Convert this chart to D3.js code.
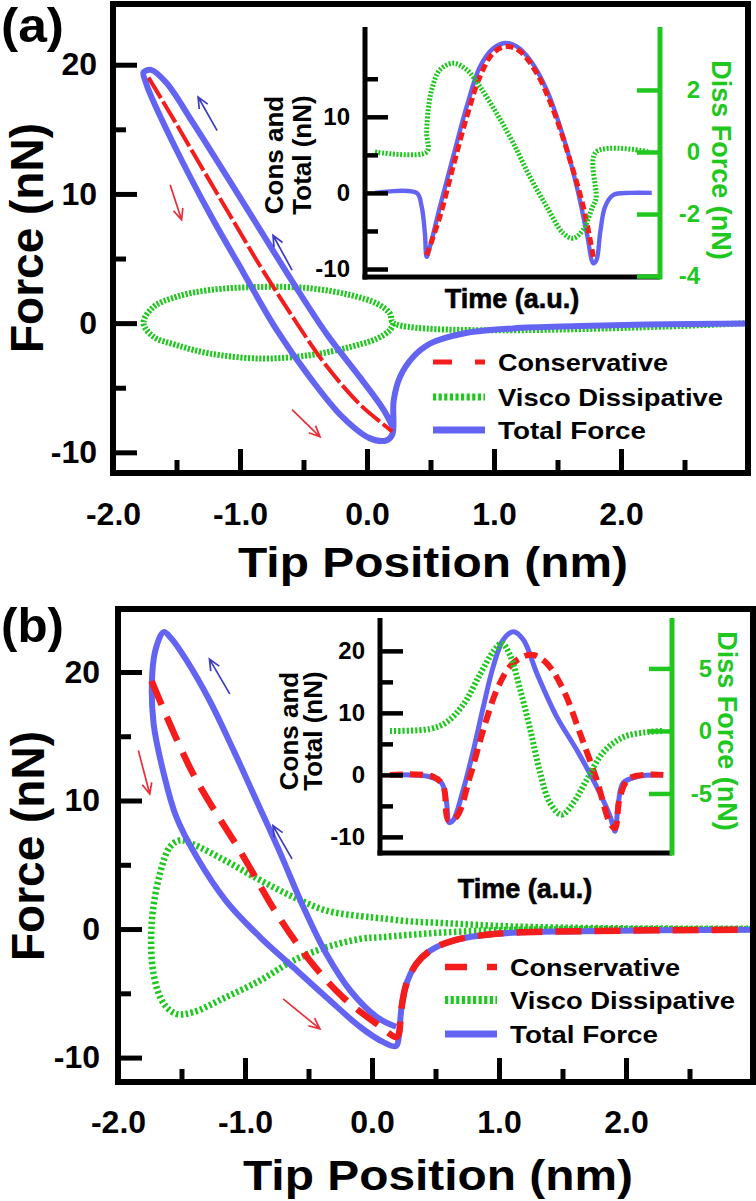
<!DOCTYPE html>
<html><head><meta charset="utf-8">
<script src="https://cdn.jsdelivr.net/npm/d3@7"></script>
<style>
body{margin:0;background:#fff}
svg{display:block}
text{font-family:"Liberation Sans",Arial,sans-serif;font-weight:bold;fill:#000}
</style></head><body>
<svg id="c" width="756" height="1201"></svg>
<script>
// ---------- tick values / labels ----------
const xMajor = [-2, -1, 0, 1, 2];
const xMajorLabels = ["-2.0", "-1.0", "0.0", "1.0", "2.0"];
const xMinor = [-1.5, -0.5, 0.5, 1.5, 2.5];
const yMajor = [-10, 0, 10, 20];
const yMajorLabels = ["-10", "0", "10", "20"];
const yMinor = [-5, 5, 15];

const insetALeftMajor = [-10, 0, 10];
const insetALeftLabels = ["-10", "0", "10"];
const insetALeftMinor = [-5, 5, 15];
const insetARight = [-4, -2, 0, 2];
const insetARightLabels = ["-4", "-2", "0", "2"];

const insetBLeftMajor = [-10, 0, 10, 20];
const insetBLeftLabels = ["-10", "0", "10", "20"];
const insetBLeftMinor = [-5, 5, 15];
const insetBRight = [-5, 0, 5];
const insetBRightLabels = ["-5", "0", "5"];

const legendLabels = ["Conservative", "Visco Dissipative", "Total Force"];

// ---------- panel (a) main: force vs tip position ----------
const consA = [[-1.72,19.0],[-1.50,15.4],[-1.37,13.2],[-1.10,8.7],[-0.84,4.4],[-0.58,0.4],[-0.32,-3.3],[-0.055,-6.3],[0.13,-7.85],[0.20,-8.4]];
const totalA = [[0.20,-8.0],[0.13,-6.7],[-0.055,-4.2],[-0.32,-0.8],[-0.58,3.1],[-0.84,7.2],[-1.10,11.3],[-1.37,15.5],[-1.58,18.6],[-1.70,19.6],[-1.76,19.4],[-1.74,18.6],[-1.71,17.8],[-1.50,13.4],[-1.24,8.5],[-0.97,3.85],[-0.71,-0.54],[-0.45,-4.2],[-0.19,-7.3],[0.02,-8.9],[0.155,-9.07],[0.20,-8.6],[0.21,-6.0],[0.26,-4.16],[0.365,-2.6],[0.5,-1.57],[0.76,-0.8],[1.15,-0.41],[1.68,-0.23],[2.2,-0.1],[3.0,-0.03]];
const dissA = [[3.0,0],[0.21,0],[0.18,0.75],[0.08,1.5],[-0.13,2.17],[-0.45,2.7],[-0.84,2.8],[-1.24,2.56],[-1.50,2.04],[-1.68,1.26],[-1.76,0],[-1.68,-1.06],[-1.50,-1.7],[-1.24,-2.35],[-0.84,-2.74],[-0.45,-2.48],[-0.13,-1.84],[0.08,-1.19],[0.18,-0.54],[0.21,0]];
const arrowsBlueA = [[-1.18,14.9,-1.33,17.5],[-0.59,4.1,-0.74,6.8]];
const arrowsRedA = [[-1.55,10.7,-1.46,8.0],[-0.59,-6.7,-0.37,-8.8]];

// ---------- panel (a) inset: force vs time ----------
const insetTotalA = [[3.4,0],[17.5,0],[19.2,-1.8],[20.3,-5.3],[20.9,-8.4],[22.0,-7.1],[25.4,-1.8],[29.9,4.8],[34.5,11.4],[39.0,16.6],[43.5,19.0],[47.5,19.7],[51.4,19.25],[55.9,17.5],[61.6,13.55],[67.2,7.4],[71.8,0.8],[75.2,-5.3],[77.4,-9.25],[78.5,-8.8],[79.7,-5.3],[81.4,-1.8],[84.2,-0.26],[89.8,0],[97.2,0]];
const insetConsA = [[20.9,-8.2],[25.4,-3.1],[29.9,3.5],[34.5,10.0],[39.0,15.3],[43.5,18.4],[48.0,19.25],[52.5,18.6],[58.2,15.75],[63.8,10.9],[69.5,4.3],[74.0,-1.8],[77.4,-8.4]];
const insetDissA = [[3.4,0],[20.9,0],[20.9,0.6],[21.3,1.25],[22.6,2.0],[25.4,2.65],[29.9,2.86],[34.5,2.65],[39.0,2.1],[44.6,1.25],[50.3,0.28],[55.9,-0.8],[61.6,-1.76],[67.2,-2.62],[70.6,-2.78],[74.0,-2.5],[77.0,-1.8],[78.3,-1.5],[78.3,0],[96.6,0]];

// ---------- panel (b) main ----------
const consB = [[-1.735,19.3],[-1.41,12.1],[-1.01,5.6],[-0.75,1.2],[-0.49,-2.45],[-0.23,-5.3],[0.04,-7.4],[0.19,-8.4],[0.21,-8.2],[0.23,-6.3],[0.27,-4.3],[0.35,-2.7],[0.46,-1.67],[0.64,-0.9],[0.98,-0.37],[1.64,-0.17],[2.98,-0.06]];
const totalB = [[0.19,-7.6],[0.04,-6.86],[-0.17,-4.8],[-0.36,-1.93],[-0.54,1.7],[-0.72,5.85],[-0.91,10.0],[-1.09,13.9],[-1.28,17.8],[-1.46,20.9],[-1.58,22.6],[-1.64,23.1],[-1.70,21.9],[-1.73,19.9],[-1.72,16.0],[-1.64,12.1],[-1.54,8.7],[-1.38,5.6],[-1.15,2.2],[-0.88,-0.64],[-0.62,-2.97],[-0.36,-5.3],[-0.09,-7.64],[0.09,-8.8],[0.19,-9.1],[0.215,-8.0],[0.23,-6.3],[0.27,-4.3],[0.35,-2.7],[0.46,-1.67],[0.64,-0.9],[0.98,-0.37],[1.64,-0.17],[2.98,-0.06]];
const dissB = [[3.0,0.02],[1.9,0.06],[1.11,0.2],[0.59,0.45],[0.30,0.6],[0.06,0.85],[-0.09,1.0],[-0.36,1.44],[-0.62,2.5],[-0.88,3.8],[-1.15,5.3],[-1.41,6.6],[-1.51,6.9],[-1.59,6.4],[-1.67,4.3],[-1.735,0.4],[-1.72,-3.5],[-1.64,-5.8],[-1.54,-6.6],[-1.41,-6.47],[-1.15,-5.3],[-0.88,-4.0],[-0.62,-2.45],[-0.36,-1.42],[-0.09,-0.76],[0.06,-0.64],[0.30,-0.45],[0.59,-0.25],[1.11,-0.06],[3.0,-0.02]];
const arrowsBlueB = [[-1.12,18.3,-1.28,21.0],[-0.63,5.46,-0.78,8.05]];
const arrowsRedB = [[-1.84,13.9,-1.75,10.5],[-0.70,-5.43,-0.41,-7.77]];

// ---------- panel (b) inset ----------
const insetTotalB = [[3.4,0],[17.1,-0.3],[21.1,-1.3],[22.8,-4.5],[23.7,-7.7],[25.1,-7.3],[28.5,-2.4],[32.0,4.0],[35.4,11.0],[38.8,17.5],[42.2,21.8],[45.7,23.1],[49.1,21.8],[53.7,16.4],[60.5,9.4],[67.4,4.0],[74.2,-1.9],[78.8,-6.7],[80.5,-9.1],[81.6,-4.6],[83.3,-1.3],[87.9,-0.3],[97.0,0]];
const insetConsB = [[3.4,0],[18.3,-0.3],[21.7,-1.9],[23.4,-7.3],[26.3,-6.7],[30.8,-0.3],[35.4,7.3],[40.0,13.7],[44.5,17.5],[49.1,19.1],[52.5,19.35],[57.1,18.0],[62.8,13.7],[68.5,6.7],[74.2,-0.8],[78.8,-7.8],[80.5,-8.6],[82.2,-3.5],[85.6,-0.5],[97.0,0]];
const insetDissB = [[3.4,0],[17.1,0.16],[22.8,0.7],[28.5,2.1],[34.2,4.5],[38.8,6.35],[41.7,7.0],[44.5,6.07],[47.9,3.4],[51.4,0.16],[54.8,-3.3],[58.2,-5.75],[62.2,-6.7],[66.2,-5.75],[70.8,-3.9],[76.5,-1.7],[83.3,-0.5],[91.3,-0.1],[97.0,0]];

// ---------- drawing ----------
const BLUE = "#6464f2", RED = "#f51c1c", GREEN = "#1fc71f";
const ARROW_BLUE = "#3c3cc4", ARROW_RED = "#e8303a";
const FONT = '"Liberation Sans",Arial,sans-serif';
const svg = d3.select("#c");
svg.append("rect").attr("width", 756).attr("height", 1201).attr("fill", "#fff");

function pathOf(data, x, y) {
  return d3.line().x(d => x(d[0])).y(d => y(d[1])).curve(d3.curveCatmullRom.alpha(0.5))(data);
}
function curve(g, data, x, y, color, width, dash) {
  const p = g.append("path").attr("d", pathOf(data, x, y)).attr("fill", "none")
    .attr("stroke", color).attr("stroke-width", width).attr("stroke-linejoin", "round");
  if (dash) p.attr("stroke-dasharray", dash);
  return p;
}
function arrow(g, a, x, y, color) {
  const x1 = x(a[0]), y1 = y(a[1]), x2 = x(a[2]), y2 = y(a[3]);
  const ang = Math.atan2(y2 - y1, x2 - x1), L = 12, s = 0.42;
  const p1 = [x2 - L * Math.cos(ang - s), y2 - L * Math.sin(ang - s)];
  const p2 = [x2 - L * Math.cos(ang + s), y2 - L * Math.sin(ang + s)];
  g.append("path").attr("d", `M${x1},${y1}L${x2},${y2}M${p1[0]},${p1[1]}L${x2},${y2}L${p2[0]},${p2[1]}`)
    .attr("fill", "none").attr("stroke", color).attr("stroke-width", 1.7);
}
function cleanAxis(sel, tw) {
  sel.select(".domain").remove();
  sel.selectAll(".tick line").attr("stroke", "#000").attr("stroke-width", tw);
}

function mainPanel(o) {
  const g = svg.append("g");
  const x = d3.scaleLinear().domain([-2, 3]).range(o.xr);
  const y = d3.scaleLinear().domain(o.yd).range(o.yr);
  curve(g, o.diss, x, y, GREEN, o.gw, o.gdash);
  curve(g, o.total, x, y, BLUE, o.bw);
  curve(g, o.cons, x, y, RED, o.rw, o.rdash);
  o.ab.forEach(a => arrow(g, a, x, y, ARROW_BLUE));
  o.ar.forEach(a => arrow(g, a, x, y, ARROW_RED));
  const yb = o.yr[0], xl = o.xr[0];
  const ax = g.append("g").attr("transform", `translate(0,${yb})`)
    .call(d3.axisBottom(x).tickValues(xMajor).tickFormat((d, i) => xMajorLabels[i]).tickSize(-24).tickPadding(o.xpad));
  cleanAxis(ax, 5);
  ax.selectAll("text").attr("font-size", 32).attr("font-family", FONT).attr("font-weight", "bold");
  const axm = g.append("g").attr("transform", `translate(0,${yb})`)
    .call(d3.axisBottom(x).tickValues(xMinor).tickFormat("").tickSize(-13));
  cleanAxis(axm, 5);
  const ay = g.append("g").attr("transform", `translate(${xl},0)`)
    .call(d3.axisLeft(y).tickValues(yMajor).tickFormat((d, i) => yMajorLabels[i]).tickSize(-24).tickPadding(o.ypad));
  cleanAxis(ay, 5);
  ay.selectAll("text").attr("font-size", 32).attr("font-family", FONT).attr("font-weight", "bold");
  const aym = g.append("g").attr("transform", `translate(${xl},0)`)
    .call(d3.axisLeft(y).tickValues(yMinor).tickFormat("").tickSize(-13));
  cleanAxis(aym, 5);
  g.append("rect").attr("x", o.xr[0]).attr("y", o.yr[1]).attr("width", o.xr[1] - o.xr[0])
    .attr("height", o.yr[0] - o.yr[1]).attr("fill", "none").attr("stroke", "#000").attr("stroke-width", 6);
  g.append("text").attr("transform", `translate(${o.ytx},${o.yty}) rotate(-90)`).attr("text-anchor", "middle")
    .attr("font-size", 46).text("Force (nN)");
  g.append("text").attr("x", o.xtx).attr("y", o.xty).attr("text-anchor", "middle").attr("font-size", 42)
    .attr("textLength", 390).attr("lengthAdjust", "spacingAndGlyphs").text("Tip Position (nm)");
  g.append("text").attr("x", 1).attr("y", o.lety).attr("font-size", 48)
    .attr("textLength", 63).attr("lengthAdjust", "spacingAndGlyphs").text(o.letter);
  const lg = g.append("g");
  const styles = [[RED, o.lrw, o.lrdash], [GREEN, o.lgw, o.lgdash], [BLUE, 7, null]];
  const widths = [170, 225, 148];
  legendLabels.forEach((t, i) => {
    const ly = o.legY[i];
    const l = lg.append("line").attr("x1", o.legX).attr("x2", o.legX + 52).attr("y1", ly).attr("y2", ly)
      .attr("stroke", styles[i][0]).attr("stroke-width", styles[i][1]);
    if (styles[i][2]) l.attr("stroke-dasharray", styles[i][2]);
    lg.append("text").attr("x", o.legX + 65).attr("y", ly).attr("dy", "0.36em").attr("font-size", 24)
      .attr("textLength", widths[i]).attr("lengthAdjust", "spacingAndGlyphs").text(t);
  });
}

function inset(o) {
  const g = svg.append("g");
  const t = d3.scaleLinear().domain([0, 100]).range(o.tr);
  const yl = d3.scaleLinear().domain(o.yld).range(o.yr);
  const yr = d3.scaleLinear().domain(o.yrd).range(o.yr);
  curve(g, o.total, t, yl, BLUE, o.bw);
  curve(g, o.cons, t, yl, RED, o.rw, o.rdash);
  curve(g, o.diss, t, yr, GREEN, o.gw, o.gdash);
  const al = g.append("g").attr("transform", `translate(${o.tr[0]},0)`)
    .call(d3.axisLeft(yl).tickValues(o.lMajor).tickFormat((d, i) => o.lLabels[i]).tickSize(-23).tickPadding(15));
  cleanAxis(al, 4.5);
  al.selectAll("text").attr("font-size", 24).attr("font-family", FONT).attr("font-weight", "bold");
  const alm = g.append("g").attr("transform", `translate(${o.tr[0]},0)`)
    .call(d3.axisLeft(yl).tickValues(o.lMinor).tickFormat("").tickSize(-13));
  cleanAxis(alm, 4.5);
  g.append("line").attr("x1", o.tr[0]).attr("x2", o.tr[0]).attr("y1", o.yr[1]).attr("y2", o.yr[0] + 2.5)
    .attr("stroke", "#000").attr("stroke-width", 5);
  g.append("line").attr("x1", o.tr[0] - 2.5).attr("x2", o.tr[1]).attr("y1", o.yr[0]).attr("y2", o.yr[0])
    .attr("stroke", "#000").attr("stroke-width", 5);
  const ar = g.append("g").attr("transform", `translate(${o.tr[1]},0)`)
    .call(d3.axisRight(yr).tickValues(o.rTicks).tickFormat((d, i) => o.rLabels[i]).tickSize(-23));
  ar.select(".domain").remove();
  ar.selectAll(".tick line").attr("stroke", GREEN).attr("stroke-width", 4.5);
  ar.selectAll("text").attr("x", 40).attr("text-anchor", "end").attr("font-size", 24)
    .attr("font-family", FONT).attr("font-weight", "bold").style("fill", GREEN);
  g.append("line").attr("x1", o.tr[1]).attr("x2", o.tr[1]).attr("y1", o.yr[1]).attr("y2", o.yr[0] + 2.5)
    .attr("stroke", GREEN).attr("stroke-width", 5);
  g.append("text").attr("transform", `translate(${o.c1x},${o.cy}) rotate(-90)`).attr("text-anchor", "middle")
    .attr("font-size", 26).text("Cons and");
  g.append("text").attr("transform", `translate(${o.c2x},${o.cy}) rotate(-90)`).attr("text-anchor", "middle")
    .attr("font-size", 26).text("Total (nN)");
  g.append("text").attr("transform", `translate(${o.dx},${o.dy}) rotate(90)`).attr("text-anchor", "middle")
    .attr("font-size", 27).style("fill", GREEN).text("Diss Force (nN)");
  g.append("text").attr("x", o.tx).attr("y", o.ty).attr("text-anchor", "middle").attr("font-size", 27)
    .attr("font-weight", "normal").attr("stroke", "#000").attr("stroke-width", 0.6).text("Time (a.u.)");
}

mainPanel({
  xr: [113, 748], yd: [-11.6, 24.7], yr: [473, 4], cons: consA, total: totalA, diss: dissA,
  gw: 6, gdash: "2.2,1.6", bw: 6, rw: 4, rdash: "24,4", ab: arrowsBlueA, ar: arrowsRedA,
  xpad: 29, ypad: 16, ytx: 43, yty: 238, xtx: 433, xty: 577, letter: "(a)", lety: 42,
  legX: 433, legY: [362, 397, 430], lrw: 5, lrdash: "19,23", lgw: 7, lgdash: "3.2,2.4"
});
inset({
  tr: [365, 660], yld: [-11.05, 21.8], yrd: [-4.03, 4.03], yr: [277, 27],
  total: insetTotalA, cons: insetConsA, diss: insetDissA, bw: 4.4, rw: 5, rdash: "8,4", gw: 5, gdash: "2,1.6",
  lMajor: insetALeftMajor, lLabels: insetALeftLabels, lMinor: insetALeftMinor, rTicks: insetARight, rLabels: insetARightLabels,
  c1x: 283, c2x: 311, cy: 155, dx: 712, dy: 160, tx: 512, ty: 308
});
mainPanel({
  xr: [118, 753], yd: [-11.9, 24.9], yr: [1082, 609], cons: consB, total: totalB, diss: dissB,
  gw: 6.5, gdash: "2.5,2.5", bw: 6, rw: 6.5, rdash: "26,13", ab: arrowsBlueB, ar: arrowsRedB,
  xpad: 28, ypad: 18, ytx: 44, yty: 846, xtx: 438, xty: 1190, letter: "(b)", lety: 642,
  legX: 445, legY: [967, 1000, 1034], lrw: 6.5, lrdash: "22,20", lgw: 8, lgdash: "3.2,2.4"
});
inset({
  tr: [380, 672], yld: [-12.6, 25.3], yrd: [-9.76, 9.03], yr: [853, 618],
  total: insetTotalB, cons: insetConsB, diss: insetDissB, bw: 5, rw: 6, rdash: "13,7", gw: 6, gdash: "2.2,2",
  lMajor: insetBLeftMajor, lLabels: insetBLeftLabels, lMinor: insetBLeftMinor, rTicks: insetBRight, rLabels: insetBRightLabels,
  c1x: 298, c2x: 322, cy: 731, dx: 718, dy: 731, tx: 525, ty: 898
});
</script>
</body></html>
